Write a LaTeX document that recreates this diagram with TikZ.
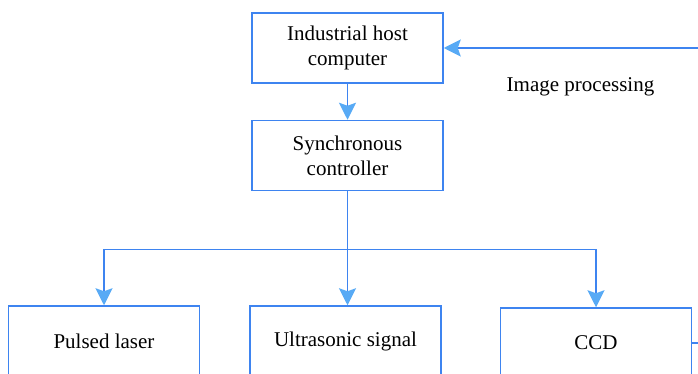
\documentclass[tikz,border=0pt]{standalone}
\usepackage{fontspec}
\setmainfont{Liberation Serif}
\usetikzlibrary{positioning,arrows.meta}
\definecolor{lineblue}{RGB}{62,132,240}
\definecolor{tipblue}{RGB}{88,170,245}

\begin{document}
\begin{tikzpicture}[
  x=1pt, y=-1pt,
  node distance=36pt,
  every node/.style={font=\fontsize{21}{25}\selectfont},
  box/.style={draw=lineblue,line width=1.5pt,minimum width=191pt,minimum height=70pt,align=center,inner sep=0pt},
  arrow/.style={-{Stealth[length=17pt,width=17pt,inset=3pt,color=tipblue]},line width=1.5pt,lineblue}
]
  \clip (0,0) rectangle (698,374);
  \node[box] (host) at (347.5,48) {Industrial host\\computer};
  \node[box,below=of host] (sync) {Synchronous\\controller};
  \node[box] (ultra) at (345.5,341) {Ultrasonic signal};
  \node[box,left=49pt of ultra] (laser) {Pulsed laser};
  \node[box,right=58pt of ultra,yshift=-2pt] (ccd) {CCD};
  \node (imgproc) at (580.5,87) {Image processing};

  \draw[arrow] (host) -- (sync);
  \draw[lineblue,line width=1.5pt] (sync.south) -- ++(0,58) coordinate (split);
  \draw[arrow] (split) -| (laser.north);
  \draw[arrow] (split) -- (split |- ultra.north);
  \draw[arrow] (split) -| (ccd.north);
  % feedback from the camera back to the host
  \draw[arrow] (ccd.east) -- ++(20,0) |- (host.east);
\end{tikzpicture}
\end{document}
